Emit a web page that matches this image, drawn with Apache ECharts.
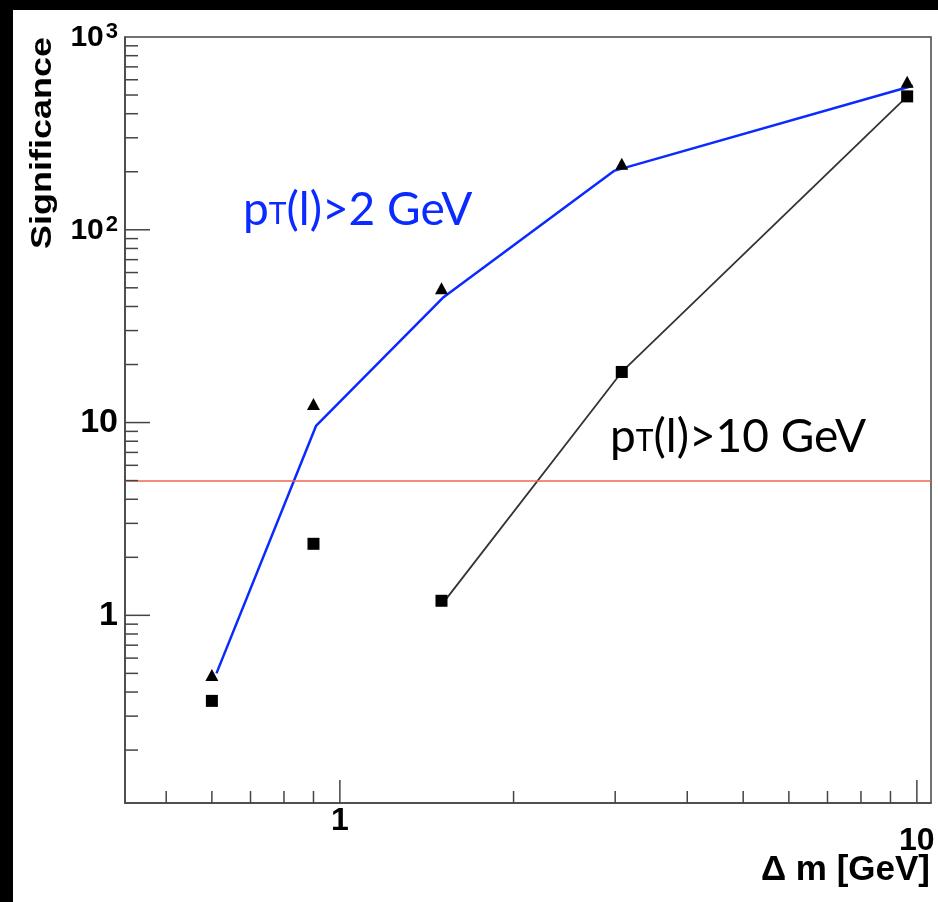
<!DOCTYPE html>
<html><head><meta charset="utf-8">
<script src="https://cdn.jsdelivr.net/npm/echarts@6/dist/echarts.min.js"></script>
<style>html,body{margin:0;padding:0;background:#fff}#c{width:938px;height:902px}</style>
</head><body><div id="c"></div>
<script>
// axis ranges
const xRange = [0.4242, 10.58];
const yRange = [0.1063, 1000];
// marker data
const massPoints = [0.6, 0.9, 1.5, 3.08, 9.62];
const sigPt2 = [0.49, 12.5, 49.8, 220, 586];
const sigPt10 = [0.36, 2.35, 1.19, 18.3, 492];
// curves
const linePt2X = [0.611, 0.909, 1.508, 2.985, 9.84];
const linePt2Y = [0.50, 9.6, 44.4, 202, 559];
const linePt10X = [1.51, 3.08, 9.62];
const linePt10Y = [1.16, 18.3, 492];
const thresholdValue = 5;
// ticks
const xMajorTicks = [1, 10];
const xMinorTicks = [0.5, 0.6, 0.7, 0.8, 0.9, 2, 3, 4, 5, 6, 7, 8, 9];
const yMajorTicks = [1, 10, 100];
const yMinorTicks = [0.2, 0.3, 0.4, 0.5, 0.6, 0.7, 0.8, 0.9, 2, 3, 4, 5, 6, 7, 8, 9,
  20, 30, 40, 50, 60, 70, 80, 90, 200, 300, 400, 500, 600, 700, 800, 900];

const AX = '#444';
const LBL = 'Liberation Sans, Arial, Helvetica, sans-serif';
const ANN = 'Lato, "Open Sans", sans-serif';

const zip = (a, b) => a.map((v, i) => [v, b[i]]);

const xTickData = xMinorTicks.map(v => [v, yRange[0], 0]).concat(xMajorTicks.map(v => [v, yRange[0], 1]));
const yTickData = yMinorTicks.map(v => [xRange[0], v, 0]).concat(yMajorTicks.map(v => [xRange[0], v, 1]));

const chart = echarts.init(document.getElementById('c'), null, {renderer: 'canvas'});
chart.setOption({
  animation: false,
  backgroundColor: '#fff',
  grid: {left: 125, top: 37, right: 7, bottom: 99, show: true, borderColor: AX, borderWidth: 1.5,
    outerBoundsMode: 'none', containLabel: false},
  xAxis: {
    type: 'log', logBase: 10, min: xRange[0], max: xRange[1],
    axisLine: {show: true, lineStyle: {color: AX, width: 1.5}},
    axisTick: {show: false}, splitLine: {show: false}, minorTick: {show: false},
    axisLabel: {
      margin: 2, showMinLabel: false, showMaxLabel: false,
      formatter: function (v) {
        const e = Math.round(Math.log10(v));
        if (Math.abs(v - Math.pow(10, e)) > 1e-6 * v) return '';
        return e === 0 ? '{a|1}' : '{b|' + Math.pow(10, e) + '}';
      },
      rich: {
        a: {fontFamily: LBL, fontWeight: 'bold', fontSize: 32, color: '#000'},
        b: {fontFamily: LBL, fontWeight: 'bold', fontSize: 32, color: '#000', padding: [20, 0, 0, 0]}
      }
    }
  },
  yAxis: {
    type: 'log', logBase: 10, min: yRange[0], max: yRange[1],
    axisLine: {show: true, lineStyle: {color: AX, width: 1.5}},
    axisTick: {show: false}, splitLine: {show: false}, minorTick: {show: false},
    axisLabel: {
      margin: 7, showMinLabel: false,
      formatter: function (v) {
        const e = Math.round(Math.log10(v));
        if (Math.abs(v - Math.pow(10, e)) > 1e-6 * v) return '';
        if (e >= 2) return '{b|10}{s|' + e + '}';
        return '{c|' + Math.pow(10, e) + '}';
      },
      rich: {
        b: {fontFamily: LBL, fontWeight: 'bold', fontSize: 30, color: '#000', verticalAlign: 'bottom', lineHeight: 32},
        s: {fontFamily: LBL, fontWeight: 'bold', fontSize: 22, color: '#000', verticalAlign: 'top', lineHeight: 32, padding: [0, 0, 0, 2]},
        c: {fontFamily: LBL, fontWeight: 'bold', fontSize: 34, color: '#000'}
      }
    }
  },
  series: [
    {
      type: 'custom', name: 'xticks', data: xTickData, silent: true, z: 5,
      renderItem: function (params, api) {
        const p = api.coord([api.value(0), api.value(1)]);
        const len = api.value(2) ? 23 : 12;
        return {type: 'line', shape: {x1: p[0], y1: p[1], x2: p[0], y2: p[1] - len},
          style: {stroke: AX, lineWidth: 1.5}};
      }
    },
    {
      type: 'custom', name: 'yticks', data: yTickData, silent: true, z: 5,
      renderItem: function (params, api) {
        const p = api.coord([api.value(0), api.value(1)]);
        const len = api.value(2) ? 25 : 13;
        return {type: 'line', shape: {x1: p[0], y1: p[1], x2: p[0] + len, y2: p[1]},
          style: {stroke: AX, lineWidth: 1.5}};
      }
    },
    {
      type: 'line', name: 'pT>2 curve', data: zip(linePt2X, linePt2Y), showSymbol: false, symbol: 'none',
      lineStyle: {color: '#0a2aff', width: 2.5}, z: 3,
      markLine: {
        silent: true, symbol: ['none', 'none'], label: {show: false},
        lineStyle: {color: '#ee6655', width: 1.5, type: 'solid'},
        data: [{yAxis: thresholdValue}]
      }
    },
    {
      type: 'line', name: 'pT>10 curve', data: zip(linePt10X, linePt10Y), showSymbol: false, symbol: 'none',
      lineStyle: {color: '#333', width: 1.8}, z: 3
    },
    {
      type: 'scatter', name: 'pT>2', data: zip(massPoints, sigPt2), symbol: 'triangle', symbolSize: [13, 12],
      itemStyle: {color: '#000', opacity: 1}, z: 4
    },
    {
      type: 'scatter', name: 'pT>10', data: zip(massPoints, sigPt10), symbol: 'rect', symbolSize: 12,
      itemStyle: {color: '#000', opacity: 1}, z: 4
    }
  ],
  graphic: [
    {type: 'rect', left: 0, top: 0, shape: {width: 938, height: 10}, style: {fill: '#000'}, z: 100},
    {type: 'rect', left: 0, top: 0, shape: {width: 13, height: 902}, style: {fill: '#000'}, z: 100},
    {type: 'text', x: 43, y: 143, rotation: Math.PI / 2, scaleY: 0.8,
      style: {text: 'Significance', font: 'bold 36px ' + LBL, fill: '#000', align: 'center', verticalAlign: 'middle'}},
    {type: 'text', x: 930, y: 870,
      style: {text: '\u0394 m [GeV]', font: 'bold 35px ' + LBL, fill: '#000', align: 'right', verticalAlign: 'middle'}},
    {type: 'text', x: 243, y: 206,
      style: {text: '{p|p}{t|T}{p|(l)>2 GeV}', fill: '#0a2aff', align: 'left', verticalAlign: 'middle',
        rich: {p: {fontFamily: ANN, fontSize: 46, fill: '#0a2aff', verticalAlign: 'bottom', lineHeight: 54},
               t: {fontFamily: ANN, fontSize: 30, fill: '#0a2aff', verticalAlign: 'bottom', lineHeight: 54, padding: [0, 0, 4, 0]}}}},
    {type: 'text', x: 610, y: 433,
      style: {text: '{p|p}{t|T}{p|(l)>10 GeV}', fill: '#000', align: 'left', verticalAlign: 'middle',
        rich: {p: {fontFamily: ANN, fontSize: 46, fill: '#000', verticalAlign: 'bottom', lineHeight: 54},
               t: {fontFamily: ANN, fontSize: 30, fill: '#000', verticalAlign: 'bottom', lineHeight: 54, padding: [0, 0, 4, 0]}}}}
  ]
});
</script></body></html>
